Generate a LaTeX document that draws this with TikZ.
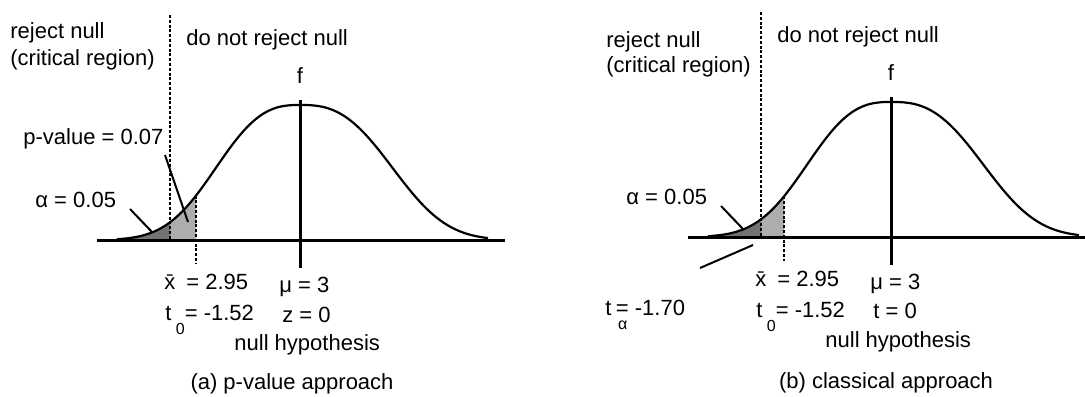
\documentclass[tikz,border=0pt]{standalone}
\usepackage{fontspec}
\setmainfont{Liberation Sans}
\newcommand{\lowsub}[1]{\raisebox{-7pt}{\fontsize{8}{9}\selectfont #1}}

\begin{document}
\begin{tikzpicture}[x={(0.5pt,0)}, y={(0,-0.5pt)}, font=\fontsize{11}{13}\selectfont,
  declare function={bell(\t)=240-135*exp(-((abs(\t-300)+0.01)/(100+10*(\t>300)))^2.7);},
  lbl/.style={anchor=base west, inner sep=0pt},
  axisline/.style={line width=1.5pt},
  curveline/.style={line width=1.1pt},
  critline/.style={line width=0.9pt, dash pattern=on 1.5pt off 0.9pt},
  leader/.style={line width=1pt},
  darkfill/.style={fill=black!55},
  lightfill/.style={fill=black!32}]
  \useasboundingbox (0,0) rectangle (1085,396);

  % both panels share the curve, axis and most labels
  \foreach \pn/\dx/\dy/\tx/\ax in {a/0/0/196/505, b/591/-3/193/494} {
    \begin{scope}[shift={(\dx,\dy)}]
      \fill[darkfill] (117,240) -- plot[domain=117:170, samples=30] (\x,{bell(\x)}) -- (170,240) -- cycle;
      \fill[lightfill] (170,240) -- plot[domain=170:\tx, samples=15] (\x,{bell(\x)}) -- (\tx,240) -- cycle;
      \draw[curveline] plot[domain=117:488, samples=120, smooth] (\x,{bell(\x)});
      \draw[axisline] (97,240) -- (\ax,240);
      \draw[axisline] (300,100) -- (300,268);
      \draw[critline] (170,15) -- (170,240);
      \draw[critline] (\tx,{bell(\tx)}) -- (\tx,264);

      \node[lbl] (dnr\pn) at (186,45) {do not reject null};
      \node[anchor=base, inner sep=0pt] (f\pn) at (300,83) {f};
      \node[lbl] (alpha\pn) at (35,207) {α = 0.05};
      \coordinate (al1\pn) at (130,209);
      \coordinate (al2\pn) at (152,232);
      \draw[leader] (al1\pn) -- (al2\pn);
      \node[lbl] (xbar\pn) at (164,289) {\=x\hspace{0.5em}= 2.95};
      \node[lbl] (tzero\pn) at (165,320) {t\kern0.2em\lowsub{0}= -1.52};
      \node[lbl] (mu\pn) at (279,292) {μ = 3};
      \node[lbl] (nh\pn) at (234,350) {null hypothesis};
    \end{scope}
  }

  % (a) p-value approach
  \node[lbl] (reja) at (10,39) {reject null};
  \node[lbl] (crita) at (10,65) {(critical region)};
  \node[lbl] (pval) at (23,144) {p-value = 0.07};
  \coordinate (pv1) at (165,155);
  \coordinate (pv2) at (188,222);
  \draw[leader] (pv1) -- (pv2);
  \node[lbl] (za) at (282,322) {z = 0};
  \node[anchor=base, inner sep=0pt] (capa) at (292,389) {(a) p-value approach};

  % (b) classical approach
  \node[lbl] (rejb) at (606,47) {reject null};
  \node[lbl] (critb) at (606,72) {(critical region)};
  \node[lbl] (talpha) at (605,315) {t\kern0.2em\rlap{\kern0.1em\lowsub{α}}= -1.70};
  \coordinate (ta1) at (700,268);
  \coordinate (ta2) at (753,245);
  \draw[leader] (ta1) -- (ta2);
  \node[lbl] (tb) at (873,318) {t = 0};
  \node[anchor=base, inner sep=0pt] (capb) at (886,388) {(b) classical approach};
\end{tikzpicture}
\end{document}
